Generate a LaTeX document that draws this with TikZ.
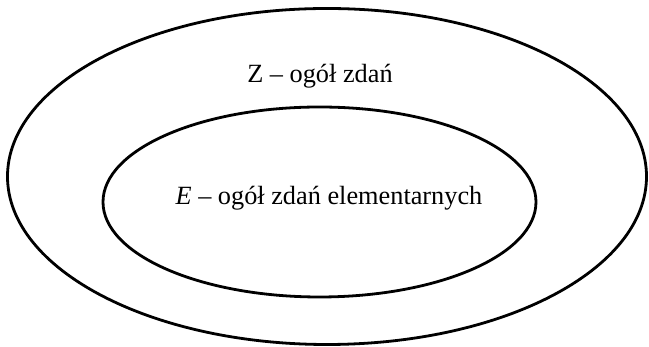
\documentclass[tikz,border=0pt]{standalone}
\usepackage{fontspec}
\setmainfont{Liberation Serif}
\usetikzlibrary{shapes.geometric}
\begin{document}
\begin{tikzpicture}[x=1pt,y=1pt,
  ring/.style={draw=black,line width=2.8pt,ellipse,inner sep=0pt,outer sep=0pt},
  lbl/.style={anchor=base,inner sep=0pt,font=\fontsize{26.3}{30}\selectfont}]
\useasboundingbox (0,0) rectangle (649,347);
\node[ring,minimum width=639pt,minimum height=336pt] (outer) at (327,170.5) {};
\node[ring,minimum width=433pt,minimum height=190pt] (inner) at (319.5,145) {};
\node[lbl] (zlab) at (320,264.7) {Z – ogół zdań};
\node[lbl] (elab) at (329,142) {\textit{E} – ogół zdań elementarnych};
\end{tikzpicture}
\end{document}
